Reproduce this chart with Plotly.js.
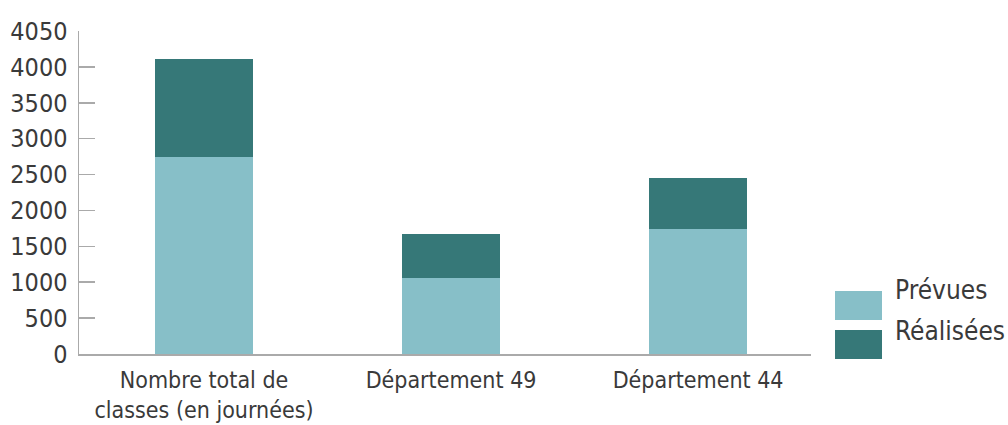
<!DOCTYPE html>
<html>
<head>
<meta charset="utf-8">
<script src="https://cdn.plot.ly/plotly-3.0.1.min.js"></script>
<style>
html,body{margin:0;padding:0;background:#fff;}
#chart{width:1008px;height:425px;}
#chart svg text{font-stretch:condensed !important;}
</style>
</head>
<body>
<div id="chart"></div>
<script>
const categories = ["Nombre total de<br>classes (en journées)", "Département 49", "Département 44"];
const seriesNames = ["Prévues", "Réalisées"];
const prevues = [2745, 1055, 1737];
const realisees = [1361, 613, 711];
const tickValues = [0, 500, 1000, 1500, 2000, 2500, 3000, 3500, 4000, 4500];
const tickLabels = ["0", "500", "1000", "1500", "2000", "2500", "3000", "3500", "4000", "4050"];
const colors = ["#87BFC8", "#367878"];

const FONT = "DejaVu Sans Condensed, DejaVu Sans, sans-serif";
const idx = categories.map((c, i) => i);

const traces = [prevues, realisees].map((vals, k) => ({
  type: "bar",
  x: idx,
  y: vals,
  name: seriesNames[k],
  marker: {color: colors[k], line: {width: 0}},
  showlegend: false,
  hoverinfo: "y+name"
}));

const legendY = [[0.105, 0.195, 0.198], [-0.0155, 0.0743, 0.071]];
const shapes = seriesNames.map((n, k) => ({
  type: "rect", xref: "paper", yref: "paper",
  x0: 1.0328, x1: 1.097, y0: legendY[k][0], y1: legendY[k][1],
  fillcolor: colors[k], line: {width: 0}
}));
const annotations = seriesNames.map((n, k) => ({
  xref: "paper", yref: "paper", x: 1.112, y: legendY[k][2],
  xanchor: "left", yanchor: "middle", text: n, showarrow: false,
  font: {family: FONT, size: 26, color: "#3a3a3a"}
}));

const layout = {
  width: 1008, height: 425,
  margin: {l: 79, r: 197, t: 31, b: 71, pad: 0},
  paper_bgcolor: "#fff", plot_bgcolor: "#fff",
  barmode: "stack",
  bargap: 0.603,
  font: {family: FONT, color: "#3a3a3a"},
  xaxis: {
    range: [-0.506, 2.457],
    tickvals: idx, ticktext: categories,
    showgrid: false, zeroline: false,
    showline: true, linecolor: "#aaa", linewidth: 2,
    ticks: "", tickfont: {family: FONT, size: 23, color: "#3a3a3a"},
    ticklabelstandoff: 4,
    fixedrange: true
  },
  yaxis: {
    range: [0, 4500],
    tickvals: tickValues, ticktext: tickLabels,
    showgrid: false, zeroline: false,
    showline: true, linecolor: "#aaa", linewidth: 1.5,
    ticks: "inside", ticklen: 16, tickcolor: "#aaa", tickwidth: 1.5,
    tickfont: {family: FONT, size: 25, color: "#3a3a3a"},
    ticklabelstandoff: 5,
    fixedrange: true
  },
  shapes: shapes,
  annotations: annotations,
  showlegend: false
};

Plotly.newPlot("chart", traces, layout, {displayModeBar: false, staticPlot: true});
</script>
</body>
</html>
